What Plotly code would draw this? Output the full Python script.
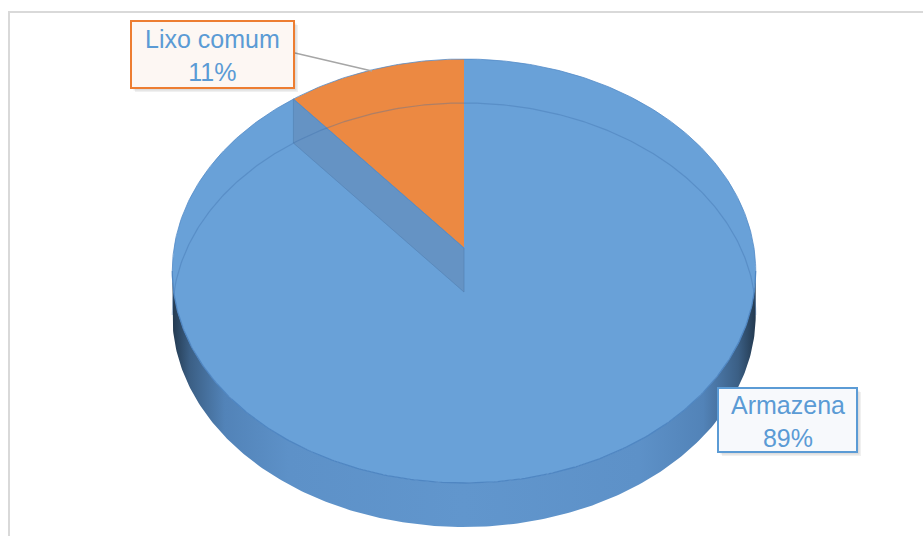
import numpy as np
import plotly.graph_objects as go

# Data
labels = ["Armazena", "Lixo comum"]
values = [89, 11]
label_text = ["Armazena<br>89%", "Lixo comum<br>11%"]

# Page is laid out in pixel units (x right, y down)
W, H = 923, 536

# Perspective disc geometry
CX, CY = 464.0, 248.0     # centre of the top face
RX, RY = 290.0, 209.5     # radii before perspective
K = 0.1085                # perspective strength (far side smaller)
DEPTH = 44.0              # thickness of the pie

TOP_BLUE = "#69a1d8"
ORANGE = "#ec8942"
WALL = "#6592c2"


def proj(theta_deg, z=0.0):
    """Theta is measured clockwise from 12 o'clock; z shifts down the slab."""
    t = np.radians(np.asarray(theta_deg, dtype=float))
    u, v = np.sin(t), np.cos(t)
    w = 1 + K * v
    return CX + RX * u / w, CY - RY * v / w + z


total = float(sum(values))
bounds = np.concatenate([[0.0], np.cumsum(values) / total * 360.0])

fig = go.Figure()

# Side band (front half of the cylinder wall)
t_left = 180 + np.degrees(np.arccos(K))    # leftmost silhouette point
t_right = 180 - np.degrees(np.arccos(K))   # rightmost silhouette point
front = np.linspace(t_right, t_left, 240)
xt, yt = proj(front)
xb, yb = proj(front[::-1], DEPTH)
fig.add_trace(go.Scatter(
    x=np.concatenate([xt, xb, xt[:1]]), y=np.concatenate([yt, yb, yt[:1]]),
    mode="lines", line=dict(width=0), fill="toself",
    fillgradient=dict(type="horizontal", colorscale=[
        [0.0, "#23394f"], [0.03, "#3b5f85"], [0.09, "#5283b8"],
        [0.2, "#5d91c8"], [0.5, "#6196cd"], [0.8, "#5d91c8"],
        [0.91, "#5283b8"], [0.97, "#3b5f85"], [1.0, "#23394f"]]),
    hoverinfo="skip", showlegend=False))

# Top faces of the slices
colors = [TOP_BLUE, ORANGE]
for i, lab in enumerate(labels):
    arc = np.linspace(bounds[i], bounds[i + 1], 200)
    ax, ay = proj(arc)
    fig.add_trace(go.Scatter(
        x=np.concatenate([[CX], ax, [CX]]), y=np.concatenate([[CY], ay, [CY]]),
        mode="lines", line=dict(width=0), fill="toself", fillcolor=colors[i],
        name=lab, hoverinfo="name", showlegend=False))

# Cut wall of the large slice along the boundary with the small slice
b = bounds[1]
ex, ey = proj(b)
ex2, ey2 = proj(b, DEPTH)
fig.add_trace(go.Scatter(
    x=[float(ex), CX, CX, float(ex2), float(ex)],
    y=[float(ey), CY, CY + DEPTH, float(ey2), float(ey)],
    mode="lines", line=dict(width=1, color="rgba(80,125,175,0.6)"),
    fill="toself", fillcolor=WALL, opacity=0.9,
    hoverinfo="skip", showlegend=False))
fig.add_trace(go.Scatter(
    x=[float(ex), CX], y=[float(ey), CY], mode="lines",
    line=dict(width=1, color="#5a8cc4"), hoverinfo="skip", showlegend=False))

# Far rim of the base showing faintly through the top
back = np.linspace(t_left - 360, t_right, 300)
bx, by = proj(back, DEPTH)
fig.add_trace(go.Scatter(
    x=bx, y=by, mode="lines", line=dict(width=1.2, color="rgba(60,110,170,0.35)"),
    hoverinfo="skip", showlegend=False))

# Seam between top face and side wall, and outer rim
fx, fy = proj(front)
fig.add_trace(go.Scatter(
    x=fx, y=fy, mode="lines", line=dict(width=1.3, color="#4f86c2"),
    hoverinfo="skip", showlegend=False))
rim = np.linspace(t_left - 360, t_right, 300)
rx_, ry_ = proj(rim)
fig.add_trace(go.Scatter(
    x=rx_, y=ry_, mode="lines", line=dict(width=1, color="rgba(85,140,200,0.8)"),
    hoverinfo="skip", showlegend=False))

# Leader line for the small slice label
fig.add_trace(go.Scatter(
    x=[295, 372], y=[53, 71], mode="lines", line=dict(width=1.5, color="#a6a6a6"),
    hoverinfo="skip", showlegend=False))

shapes = [
    # chart frame
    dict(type="rect", xref="x", yref="y", x0=9, y0=12, x1=W + 20, y1=H + 20,
         line=dict(color="#d9d9d9", width=2), fillcolor="rgba(0,0,0,0)", layer="below"),
]

# Label boxes: (x0, y0, x1, y1, border, fill)
boxes = [
    (718, 388, 857, 452, "#5b9bd5", "#f7f9fc"),
    (131, 21, 294, 88, "#ed7d31", "#fdf7f3"),
]
annotations = []
for (x0, y0, x1, y1, border, fill), txt in zip(boxes, label_text):
    for off, alpha in ((4, 0.06), (2.5, 0.08)):
        shapes.append(dict(type="rect", xref="x", yref="y", x0=x0 + off, y0=y0 + off,
                           x1=x1 + off, y1=y1 + off, line=dict(width=0),
                           fillcolor=f"rgba(0,0,0,{alpha})"))
    shapes.append(dict(type="rect", xref="x", yref="y", x0=x0, y0=y0, x1=x1, y1=y1,
                       line=dict(color=border, width=2), fillcolor=fill))
    annotations.append(dict(
        x=(x0 + x1) / 2, y=(y0 + y1) / 2 + 1, xref="x", yref="y", text=txt,
        showarrow=False, xanchor="center", yanchor="middle", align="center",
        font=dict(family="Liberation Sans, Arial, sans-serif", size=25, color="#5b9bd5")))

fig.update_layout(
    width=W, height=H, margin=dict(l=0, r=0, t=0, b=0),
    paper_bgcolor="white", plot_bgcolor="white",
    xaxis=dict(range=[0, W], visible=False, fixedrange=True),
    yaxis=dict(range=[H, 0], visible=False, fixedrange=True),
    shapes=shapes, annotations=annotations, showlegend=False,
)

fig.write_html("out.html")
